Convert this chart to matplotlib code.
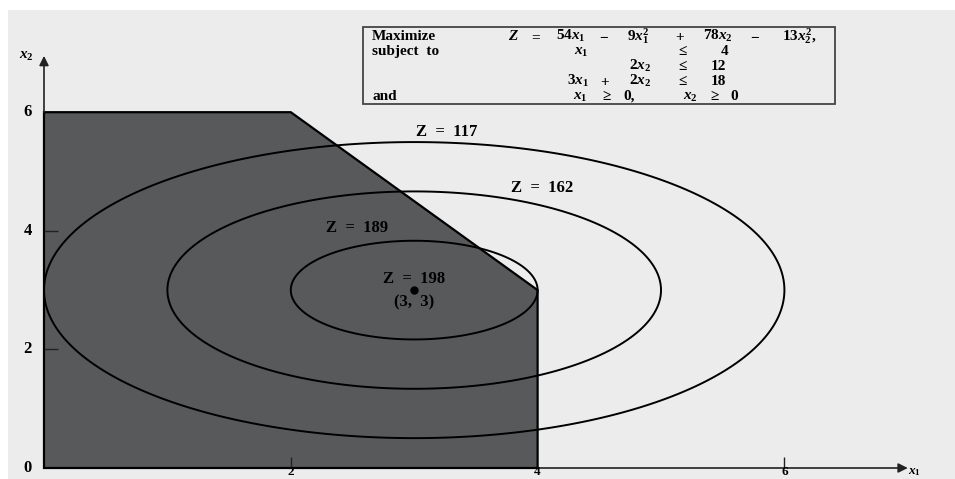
import numpy as np
import matplotlib
matplotlib.use("Agg")
import matplotlib.pyplot as plt
from matplotlib.patches import Polygon, Rectangle

plt.rcParams['mathtext.fontset'] = 'custom'
plt.rcParams['mathtext.rm'] = 'Liberation Serif:bold'
plt.rcParams['mathtext.it'] = 'Liberation Serif:italic:bold'
plt.rcParams['mathtext.bf'] = 'Liberation Serif:bold'

# objective Z = 54 x1 - 9 x1^2 + 78 x2 - 13 x2^2
coef_lin = [54, 78]
coef_sq = [9, 13]
levels = [117, 162, 189]
optimum = (3, 3)
z_opt = 198

# feasible region corners
region_x = [0, 0, 2, 4, 4]
region_y = [0, 6, 6, 3, 0]

x_ticks = [2, 4, 6]
y_ticks = [0, 2, 4, 6]

W, H = 955, 479
fig = plt.figure(figsize=(W / 100, H / 100), dpi=100)
fig.patch.set_facecolor('white')

ax = fig.add_axes([0, 0, 1, 1])
ax.set_facecolor('none')
# pixel -> data: x0 at 44px, 123.4 px per unit; y0 at row 468, 59.3 px per unit
sx, sy = 123.4, 59.3
ax.set_xlim(-44 / sx, (W - 44) / sx)
ax.set_ylim(-(H - 468) / sy, 468 / sy)
ax.axis('off')

def px(x, y):
    return x / W, 1 - y / H

ax.add_patch(Rectangle(px(8, 479), 1, 1 - 10 / H, transform=fig.transFigure,
                       facecolor='#ececec', edgecolor='none', zorder=0))

serif = 'Liberation Serif'

# feasible region
ax.add_patch(Polygon(list(zip(region_x, region_y)), closed=True,
                     facecolor='#58595b', edgecolor='black', lw=1.6, zorder=2))

# axes with arrows
ax.annotate('', xy=(0, 6.95), xytext=(0, 6), zorder=3,
            arrowprops=dict(arrowstyle='-|>', color='#222222', lw=1.2,
                            mutation_scale=14, shrinkA=0, shrinkB=0))
ax.annotate('', xy=(7.0, 0), xytext=(4, 0), zorder=3,
            arrowprops=dict(arrowstyle='-|>', color='#222222', lw=1.2,
                            mutation_scale=14, shrinkA=0, shrinkB=0))
ax.plot([2, 6], [0, 0], ls='none', marker=2, ms=8, mew=1, color='#222222', zorder=3)
ax.plot([0, 0], [2, 4], ls='none', marker=1, ms=10, mew=1, color='#222222', zorder=3)

for t in x_ticks:
    ax.text(t, -(H - 469) / sy, str(t), ha='center', va='bottom', fontsize=9.5,
            family=serif, weight='bold')
for t in y_ticks:
    ax.text(-12 / sx, t, str(t), ha='right', va='center', fontsize=12,
            family=serif, weight='bold')
ax.text(-10 / sx, 6.95, r'$x_2$', ha='right', va='center', fontsize=11)
ax.text(7.05, -(H - 469) / sy, r'$x_1$', ha='center', va='bottom', fontsize=9.5)

# contour lines of the objective
gx, gy = np.meshgrid(np.linspace(-0.5, 7, 600), np.linspace(-0.5, 7, 600))
Z = coef_lin[0] * gx - coef_sq[0] * gx**2 + coef_lin[1] * gy - coef_sq[1] * gy**2
ax.contour(gx, gy, Z, levels=levels, colors='black', linewidths=1.4, zorder=4)

lab = dict(fontsize=12, family=serif, weight='bold', zorder=5, va='center',
           ha='center')
ax.plot(*optimum, 'o', color='black', ms=5, zorder=5)
ax.text(optimum[0], optimum[1] + 0.19, f'Z  =  {z_opt}', **lab)
ax.text(optimum[0], optimum[1] - 0.2, f'({optimum[0]},  {optimum[1]})', **lab)

label_pos = {117: (3.26, 5.67), 162: (4.04, 4.72), 189: (2.54, 4.05)}
for lv in levels:
    lx, ly = label_pos[lv]
    ax.text(lx, ly, f'Z  =  {lv}', **lab)

# problem statement box
ax.add_patch(Rectangle(px(363, 104), (835 - 363) / W, (104 - 27) / H,
                       transform=fig.transFigure, facecolor='none',
                       edgecolor='#444444', lw=1.3, zorder=6))
baselines = [40, 55, 70, 85, 100]
def put(x, row, s, ha='center'):
    ax.text(*px(x, baselines[row]), s, ha=ha, va='baseline', fontsize=11,
            family=serif, weight='bold', transform=fig.transFigure, zorder=7)

put(372, 0, 'Maximize', ha='left')
put(372, 1, 'subject  to', ha='left')
put(372, 4, 'and', ha='left')
# objective, token by token
put(513, 0, r'$Z$')
put(535, 0, r'$=$')
put(571, 0, r'$54x_1$')
put(604, 0, r'$-$')
put(638, 0, r'$9x_1^2$')
put(680, 0, r'$+$')
put(718, 0, r'$78x_2$')
put(755, 0, r'$-$')
put(799, 0, r'$13x_2^2,$')
# constraints
put(581, 1, r'$x_1$')
put(682, 1, r'$\leq$')
put(725, 1, '4')
put(640, 2, r'$2x_2$')
put(682, 2, r'$\leq$')
put(718, 2, '12')
put(578, 3, r'$3x_1$')
put(605, 3, r'$+$')
put(640, 3, r'$2x_2$')
put(682, 3, r'$\leq$')
put(718, 3, '18')
put(580, 4, r'$x_1$')
put(606, 4, r'$\geq$')
put(629, 4, '0,')
put(690, 4, r'$x_2$')
put(714, 4, r'$\geq$')
put(734, 4, '0')

fig.savefig('out.png', dpi=100, facecolor=fig.get_facecolor())
